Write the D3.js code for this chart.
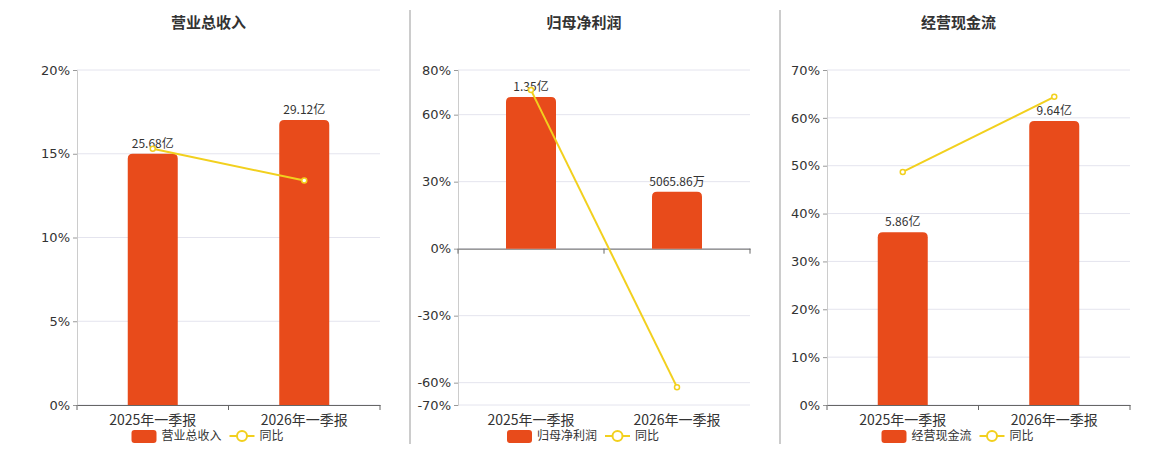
<!DOCTYPE html>
<html><head><meta charset="utf-8">
<script src="https://cdn.jsdelivr.net/npm/d3@7/dist/d3.min.js"></script>
<style>body{margin:0;background:#fff;font-family:"Noto Sans CJK SC","Noto Sans",sans-serif}</style>
</head><body><svg id="c" width="1160" height="450"></svg>
<script>
var categories = ["2025年一季报", "2026年一季报"];
var titles = ["营业总收入", "归母净利润", "经营现金流"];
var barValues = [[25.68, 29.12], [13500, 5065.86], [5.86, 9.64]];
var barLabels = [["25.68亿", "29.12亿"], ["1.35亿", "5065.86万"], ["5.86亿", "9.64亿"]];
var yoyValues = [[15.3, 13.4], [71, -62], [48.7, 64.4]];
var yTicks = [[0, 5, 10, 15, 20], [-70, -60, -30, 0, 30, 60, 80], [0, 10, 20, 30, 40, 50, 60, 70]];
var yDomains = [[0, 20], [-70, 80], [0, 70]];
var barMax = [34.23, 15900, 11.37];

var svg = d3.select("#c");
var barColor = "#e84b1b", lineColor = "#f2d01e";
var panels = [{x0: 77, x1: 380}, {x0: 458, x1: 750}, {x0: 827, x1: 1130}];
var plotTop = 70, plotBottom = 405;

[410, 780].forEach(function(x){
  svg.append("line").attr("x1", x).attr("x2", x).attr("y1", 10).attr("y2", 444).attr("stroke", "#999");
});

panels.forEach(function(p, i){
  var g = svg.append("g");
  var y = d3.scaleLinear().domain(yDomains[i]).range([plotBottom, plotTop]);
  var x = d3.scaleBand().domain(categories).range([p.x0, p.x1]);
  var yb = d3.scaleLinear().domain([0, barMax[i]]).range([y(0), plotTop]);

  g.append("text").attr("x", (p.x0 + p.x1) / 2 - 20).attr("y", 28).attr("text-anchor", "middle")
    .attr("font-size", 15).attr("font-weight", "bold").attr("fill", "#333").text(titles[i]);

  g.selectAll(".grid").data(yTicks[i]).enter().append("line")
    .attr("x1", p.x0).attr("x2", p.x1).attr("y1", d => y(d)).attr("y2", d => y(d))
    .attr("stroke", "#e4e4ee");

  var ya = g.append("g").attr("transform", "translate(" + p.x0 + ",0)")
    .call(d3.axisLeft(y).tickValues(yTicks[i]).tickSize(4).tickFormat(d => d + "%"));
  ya.select(".domain").attr("stroke", "#ccc");
  ya.selectAll(".tick line").attr("stroke", "#999");
  ya.selectAll("text").attr("font-size", 13).attr("fill", "#333").attr("font-family", "DejaVu Sans");

  var xa = g.append("g").attr("transform", "translate(0," + y(0) + ")")
    .call(d3.axisBottom(x).tickSize(0).tickFormat(""));
  xa.select(".domain").attr("stroke", "#666");
  g.selectAll(".xt").data([p.x0, (p.x0 + p.x1) / 2, p.x1]).enter().append("line")
    .attr("x1", d => d).attr("x2", d => d).attr("y1", y(0)).attr("y2", y(0) + 5).attr("stroke", "#666");
  g.selectAll(".xl").data(categories).enter().append("text")
    .attr("x", d => x(d) + x.bandwidth() / 2).attr("y", 425).attr("text-anchor", "middle")
    .attr("font-size", 14).attr("fill", "#333").text(d => d);

  var bw = 50;
  g.selectAll(".bar").data(barValues[i]).enter().append("path")
    .attr("fill", barColor)
    .attr("d", function(d, j){
      var cx = x(categories[j]) + x.bandwidth() / 2, x0 = cx - bw / 2, yt = yb(d), yz = y(0), r = 5;
      return "M" + x0 + "," + yz + "V" + (yt + r) + "Q" + x0 + "," + yt + " " + (x0 + r) + "," + yt +
        "H" + (x0 + bw - r) + "Q" + (x0 + bw) + "," + yt + " " + (x0 + bw) + "," + (yt + r) + "V" + yz + "Z";
    });
  g.selectAll(".bl").data(barValues[i]).enter().append("text")
    .attr("x", (d, j) => x(categories[j]) + x.bandwidth() / 2).attr("y", d => yb(d) - 6)
    .attr("text-anchor", "middle").attr("font-size", 12).attr("fill", "#333")
    .text((d, j) => barLabels[i][j]);

  var line = d3.line().x((d, j) => x(categories[j]) + x.bandwidth() / 2).y(d => y(d));
  g.append("path").attr("d", line(yoyValues[i])).attr("fill", "none").attr("stroke", lineColor).attr("stroke-width", 2);
  g.selectAll(".pt").data(yoyValues[i]).enter().append("circle")
    .attr("cx", (d, j) => x(categories[j]) + x.bandwidth() / 2).attr("cy", d => y(d)).attr("r", 2.5)
    .attr("fill", "#fff").attr("stroke", lineColor).attr("stroke-width", 1.5);

  var lx = (p.x0 + p.x1) / 2 - 97, ly = 436;
  g.append("rect").attr("x", lx).attr("y", ly - 6).attr("width", 25).attr("height", 13).attr("rx", 3).attr("fill", barColor);
  g.append("text").attr("x", lx + 30).attr("y", ly + 4).attr("font-size", 12).attr("fill", "#333").text(titles[i]);
  var lx2 = lx + 30 + titles[i].length * 12 + 8;
  g.append("line").attr("x1", lx2).attr("x2", lx2 + 25).attr("y1", ly).attr("y2", ly).attr("stroke", lineColor).attr("stroke-width", 2);
  g.append("circle").attr("cx", lx2 + 12.5).attr("cy", ly).attr("r", 5).attr("fill", "#fff").attr("stroke", lineColor).attr("stroke-width", 2);
  g.append("text").attr("x", lx2 + 30).attr("y", ly + 4).attr("font-size", 12).attr("fill", "#333").text("同比");
});
</script></body></html>
